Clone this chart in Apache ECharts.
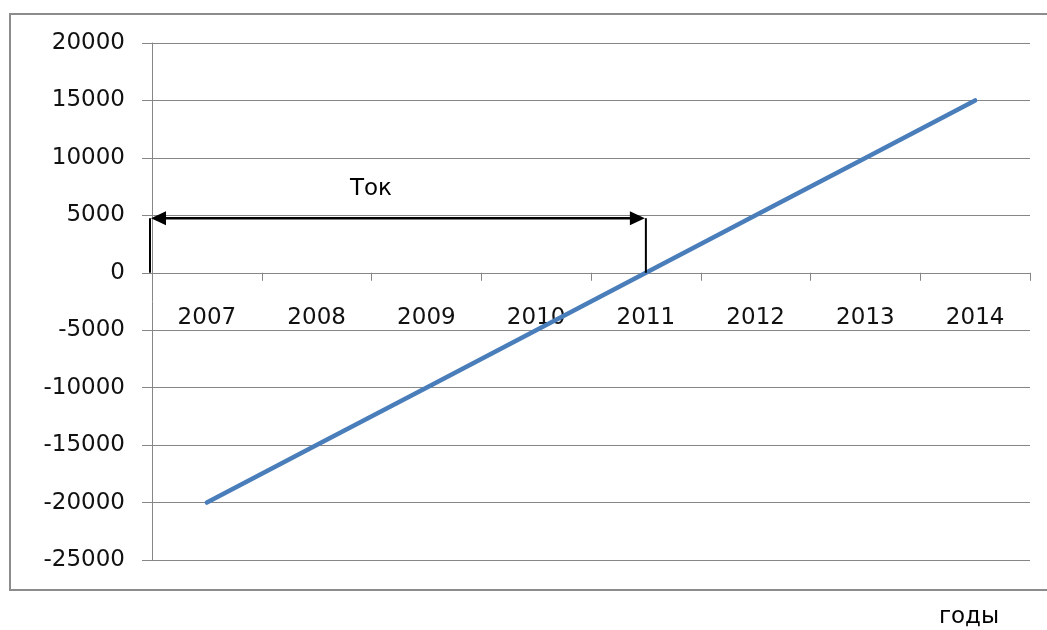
<!DOCTYPE html>
<html>
<head>
<meta charset="utf-8">
<script src="https://cdn.jsdelivr.net/npm/echarts@6/dist/echarts.min.js"></script>
<style>html,body{margin:0;padding:0;background:#fff;}#c{width:1047px;height:630px;}</style>
</head>
<body>
<div id="c"></div>
<script>
const years = ['2007','2008','2009','2010','2011','2012','2013','2014'];
const values = [-20000,-15000,-10000,-5000,0,5000,10000,15000];
const yTicks = {min:-25000, max:20000, interval:5000};
const annotation = {label:'Ток', toYear:'2011', level:4750};
const xAxisName = 'годы';

const FONT = 'DejaVu Sans';
const FS = 23;
const chart = echarts.init(document.getElementById('c'), null, {renderer:'canvas'});
chart.setOption({
  animation:false,
  backgroundColor:'#fff',
  grid:{left:152, right:17, top:43, bottom:70, containLabel:false},
  xAxis:{
    type:'category', data:years, boundaryGap:true, position:'bottom',
    axisLine:{onZero:false, lineStyle:{color:'#868686', width:1}},
    axisTick:{show:true, inside:false, length:8, alignWithLabel:false, lineStyle:{color:'#868686'}},
    axisLabel:{color:'#111', fontFamily:FONT, fontSize:FS, margin:34},
    splitLine:{show:false}
  },
  yAxis:{
    type:'value', min:yTicks.min, max:yTicks.max, interval:yTicks.interval,
    axisLine:{show:true, lineStyle:{color:'#868686', width:1}},
    axisTick:{show:true, length:10, lineStyle:{color:'#868686'}},
    axisLabel:{color:'#111', fontFamily:FONT, fontSize:FS, margin:27, formatter:function(v){return String(v);}},
    splitLine:{show:true, lineStyle:{color:'#868686', width:1}}
  },
  series:[{
    type:'line', data:values, symbol:'none',
    lineStyle:{color:'#4a7ebb', width:4.5, cap:'round'}
  }]
});

function drawAnnotation(){
  const y0 = chart.convertToPixel({yAxisIndex:0}, 0);
  const yMin = chart.convertToPixel({yAxisIndex:0}, yTicks.min);
  chart.setOption({xAxis:{offset:-(yMin - y0)}});
  const yA = chart.convertToPixel({yAxisIndex:0}, annotation.level);
  const x2 = chart.convertToPixel({xAxisIndex:0}, annotation.toYear);
  const gridRect = chart.getModel().getComponent('grid').coordinateSystem.getRect();
  const x1 = gridRect.x - 2;
  const head = 15, hw = 7;
  chart.setOption({graphic:[
    {type:'rect', shape:{x:10, y:14, width:1060, height:576}, style:{fill:'none', stroke:'#8c8c8c', lineWidth:2}, z:100},
    {type:'line', shape:{x1:x1, y1:y0, x2:x1, y2:yA}, style:{stroke:'#000', lineWidth:2}, z:100},
    {type:'line', shape:{x1:x2, y1:y0, x2:x2, y2:yA}, style:{stroke:'#000', lineWidth:2}, z:100},
    {type:'line', shape:{x1:x1+head, y1:yA, x2:x2-head, y2:yA}, style:{stroke:'#000', lineWidth:2.5}, z:100},
    {type:'polygon', shape:{points:[[x1+1,yA],[x1+1+head,yA-hw],[x1+1+head,yA+hw]]}, style:{fill:'#000'}, z:100},
    {type:'polygon', shape:{points:[[x2-1,yA],[x2-1-head,yA-hw],[x2-1-head,yA+hw]]}, style:{fill:'#000'}, z:100},
    {type:'text', x:371, y:yA-29, style:{text:annotation.label, fontFamily:FONT, fontSize:FS, fill:'#000', align:'center', verticalAlign:'middle'}, z:100},
    {type:'text', x:969, y:617, style:{text:xAxisName, fontFamily:FONT, fontSize:FS, fill:'#000', align:'center', verticalAlign:'middle'}, z:100}
  ]});
}
drawAnnotation();
</script>
</body>
</html>
